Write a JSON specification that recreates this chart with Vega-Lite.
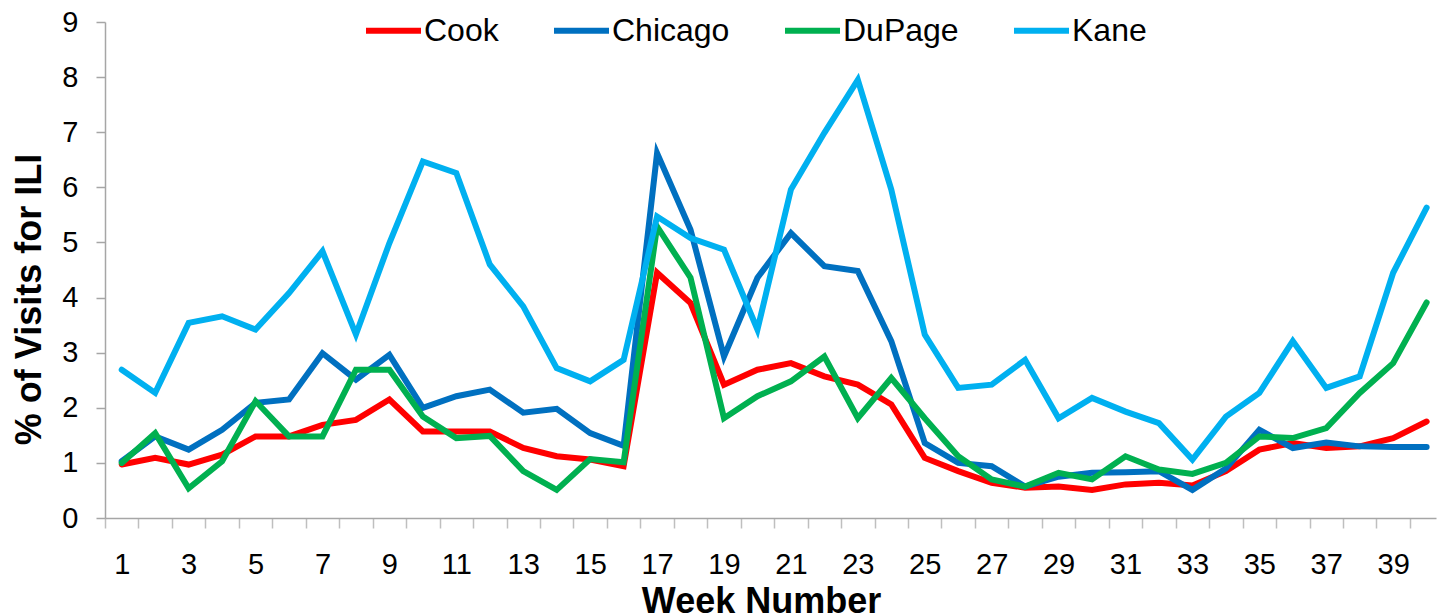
{
  "$schema": "https://vega.github.io/schema/vega-lite/v6.json",
  "width": 1331,
  "height": 496,
  "autosize": {"type": "none"},
  "padding": {"left": 105, "top": 22, "right": 1, "bottom": 95},
  "background": "white",
  "config": {
    "view": {"stroke": null},
    "font": "Liberation Sans",
    "axis": {"labelFont": "Liberation Sans", "titleFont": "Liberation Sans"},
    "legend": {"labelFont": "Liberation Sans"}
  },
  "data": {
    "values": [
      {"week": 1, "Cook": 0.97, "Chicago": 1.03, "DuPage": 1.00, "Kane": 2.69},
      {"week": 2, "Cook": 1.09, "Chicago": 1.48, "DuPage": 1.54, "Kane": 2.27},
      {"week": 3, "Cook": 0.97, "Chicago": 1.24, "DuPage": 0.54, "Kane": 3.54},
      {"week": 4, "Cook": 1.15, "Chicago": 1.60, "DuPage": 1.03, "Kane": 3.66},
      {"week": 5, "Cook": 1.48, "Chicago": 2.09, "DuPage": 2.12, "Kane": 3.42},
      {"week": 6, "Cook": 1.48, "Chicago": 2.15, "DuPage": 1.48, "Kane": 4.08},
      {"week": 7, "Cook": 1.69, "Chicago": 2.99, "DuPage": 1.48, "Kane": 4.84},
      {"week": 8, "Cook": 1.78, "Chicago": 2.51, "DuPage": 2.69, "Kane": 3.33},
      {"week": 9, "Cook": 2.15, "Chicago": 2.96, "DuPage": 2.69, "Kane": 4.99},
      {"week": 10, "Cook": 1.57, "Chicago": 2.00, "DuPage": 1.84, "Kane": 6.47},
      {"week": 11, "Cook": 1.57, "Chicago": 2.21, "DuPage": 1.45, "Kane": 6.26},
      {"week": 12, "Cook": 1.57, "Chicago": 2.33, "DuPage": 1.49, "Kane": 4.60},
      {"week": 13, "Cook": 1.27, "Chicago": 1.91, "DuPage": 0.85, "Kane": 3.84},
      {"week": 14, "Cook": 1.12, "Chicago": 1.98, "DuPage": 0.51, "Kane": 2.72},
      {"week": 15, "Cook": 1.06, "Chicago": 1.54, "DuPage": 1.07, "Kane": 2.48},
      {"week": 16, "Cook": 0.94, "Chicago": 1.31, "DuPage": 1.01, "Kane": 2.87},
      {"week": 17, "Cook": 4.45, "Chicago": 6.62, "DuPage": 5.29, "Kane": 5.47},
      {"week": 18, "Cook": 3.90, "Chicago": 5.23, "DuPage": 4.36, "Kane": 5.08},
      {"week": 19, "Cook": 2.42, "Chicago": 2.93, "DuPage": 1.81, "Kane": 4.87},
      {"week": 20, "Cook": 2.69, "Chicago": 4.36, "DuPage": 2.21, "Kane": 3.42},
      {"week": 21, "Cook": 2.81, "Chicago": 5.17, "DuPage": 2.48, "Kane": 5.96},
      {"week": 22, "Cook": 2.57, "Chicago": 4.57, "DuPage": 2.93, "Kane": 6.99},
      {"week": 23, "Cook": 2.42, "Chicago": 4.48, "DuPage": 1.81, "Kane": 7.95},
      {"week": 24, "Cook": 2.06, "Chicago": 3.21, "DuPage": 2.54, "Kane": 5.96},
      {"week": 25, "Cook": 1.09, "Chicago": 1.36, "DuPage": 1.81, "Kane": 3.33},
      {"week": 26, "Cook": 0.85, "Chicago": 1.00, "DuPage": 1.12, "Kane": 2.36},
      {"week": 27, "Cook": 0.64, "Chicago": 0.94, "DuPage": 0.70, "Kane": 2.42},
      {"week": 28, "Cook": 0.55, "Chicago": 0.57, "DuPage": 0.57, "Kane": 2.87},
      {"week": 29, "Cook": 0.57, "Chicago": 0.75, "DuPage": 0.82, "Kane": 1.81},
      {"week": 30, "Cook": 0.51, "Chicago": 0.82, "DuPage": 0.70, "Kane": 2.18},
      {"week": 31, "Cook": 0.61, "Chicago": 0.83, "DuPage": 1.12, "Kane": 1.93},
      {"week": 32, "Cook": 0.64, "Chicago": 0.85, "DuPage": 0.88, "Kane": 1.72},
      {"week": 33, "Cook": 0.59, "Chicago": 0.51, "DuPage": 0.80, "Kane": 1.06},
      {"week": 34, "Cook": 0.85, "Chicago": 0.90, "DuPage": 1.00, "Kane": 1.84},
      {"week": 35, "Cook": 1.24, "Chicago": 1.60, "DuPage": 1.48, "Kane": 2.27},
      {"week": 36, "Cook": 1.36, "Chicago": 1.27, "DuPage": 1.45, "Kane": 3.21},
      {"week": 37, "Cook": 1.27, "Chicago": 1.37, "DuPage": 1.63, "Kane": 2.36},
      {"week": 38, "Cook": 1.30, "Chicago": 1.30, "DuPage": 2.27, "Kane": 2.57},
      {"week": 39, "Cook": 1.45, "Chicago": 1.29, "DuPage": 2.81, "Kane": 4.45},
      {"week": 40, "Cook": 1.75, "Chicago": 1.29, "DuPage": 3.91, "Kane": 5.63}
    ]
  },
  "transform": [
    {"fold": ["Cook", "Chicago", "DuPage", "Kane"], "as": ["county", "pct"]}
  ],
  "mark": {"type": "line", "strokeWidth": 6, "strokeCap": "round", "strokeJoin": "miter"},
  "encoding": {
    "x": {
      "field": "week",
      "type": "quantitative",
      "scale": {"domain": [0.5, 40.28], "nice": false, "zero": false},
      "axis": {
        "values": [0.5,1.5,2.5,3.5,4.5,5.5,6.5,7.5,8.5,9.5,10.5,11.5,12.5,13.5,14.5,15.5,16.5,17.5,18.5,19.5,20.5,21.5,22.5,23.5,24.5,25.5,26.5,27.5,28.5,29.5,30.5,31.5,32.5,33.5,34.5,35.5,36.5,37.5,38.5,39.5],
        "labelExpr": "(datum.value + 0.5) % 2 == 1 ? format(datum.value + 0.5, 'd') : ''",
        "labelOffset": 16.7,
        "labelOverlap": false,
        "labelFlush": false,
        "labelBound": false,
        "labelFontSize": 29,
        "labelColor": "#000000",
        "labelPadding": 22,
        "labelBaseline": "top",
        "grid": false,
        "domainColor": "#a6a6a6",
        "domainWidth": 1.5,
        "tickColor": "#bfbfbf",
        "tickWidth": 1.5,
        "tickSize": 10,
        "title": "Week Number",
        "titleFontSize": 36,
        "titleFontWeight": "bold",
        "titleColor": "#000000",
        "titleBaseline": "alphabetic",
        "titleX": 656,
        "titleY": 94,
        "titleAnchor": null
      }
    },
    "y": {
      "field": "pct",
      "type": "quantitative",
      "scale": {"domain": [0, 9], "nice": false},
      "axis": {
        "values": [0,1,2,3,4,5,6,7,8,9],
        "grid": false,
        "labelFontSize": 29,
        "labelColor": "#000000",
        "labelPadding": 18,
        "domainColor": "#a6a6a6",
        "domainWidth": 1.5,
        "tickColor": "#a6a6a6",
        "tickWidth": 1.5,
        "tickSize": 9,
        "title": "% of Visits for ILI",
        "titleFontSize": 36,
        "titleFontWeight": "bold",
        "titleColor": "#000000",
        "titleBaseline": "alphabetic",
        "titleX": -65,
        "titleY": 277
      }
    },
    "color": {
      "field": "county",
      "type": "nominal",
      "sort": ["Cook", "Chicago", "DuPage", "Kane"],
      "scale": {"domain": ["Cook", "Chicago", "DuPage", "Kane"], "range": ["#ff0000", "#0070c0", "#00b050", "#00b0f0"]},
      "legend": {
        "title": null,
        "orient": "none",
        "legendX": 258,
        "legendY": -22,
        "direction": "horizontal",
        "columns": 4,
        "columnPadding": 43,
        "padding": 0,
        "symbolType": "stroke",
        "symbolSize": 3025,
        "symbolStrokeWidth": 6,
        "labelOffset": 0,
        "labelFontSize": 32,
        "labelColor": "#000000",
        "labelLimit": 300
      }
    }
  }
}
